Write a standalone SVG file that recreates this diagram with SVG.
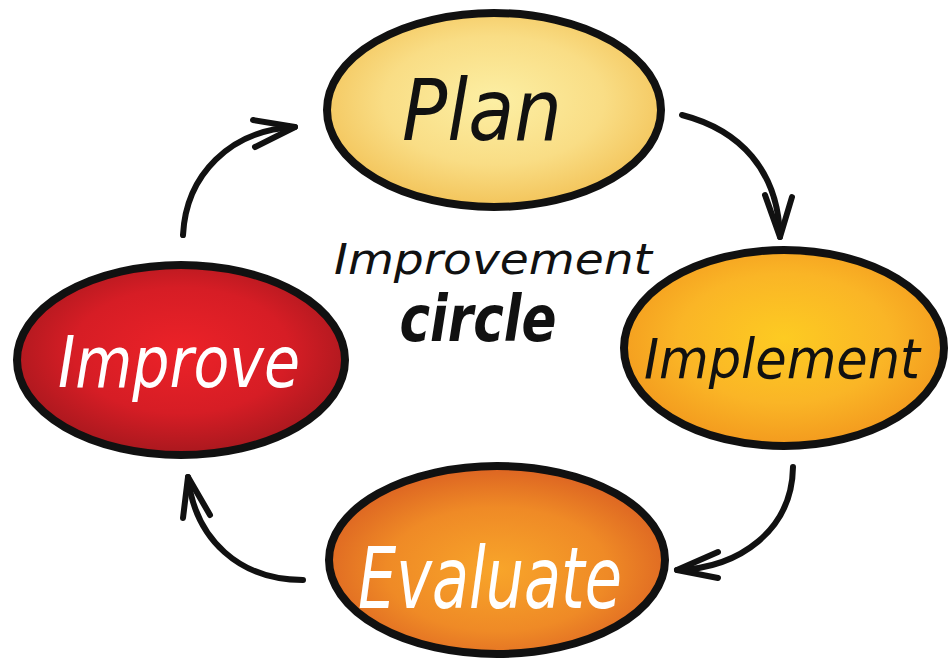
<svg xmlns="http://www.w3.org/2000/svg" width="949" height="659" viewBox="0 0 949 659">
<defs>
<radialGradient id="gPlan" cx="50%" cy="45%" r="55%"><stop offset="0" stop-color="#FCEFA4"/><stop offset="0.6" stop-color="#F9DD85"/><stop offset="1" stop-color="#F3C45A"/></radialGradient>
<radialGradient id="gImpl" cx="50%" cy="45%" r="55%"><stop offset="0" stop-color="#FDCB22"/><stop offset="0.6" stop-color="#FAB526"/><stop offset="1" stop-color="#F39A1E"/></radialGradient>
<radialGradient id="gEval" cx="50%" cy="55%" r="55%"><stop offset="0" stop-color="#F8A52A"/><stop offset="0.6" stop-color="#EF8A26"/><stop offset="1" stop-color="#DC6322"/></radialGradient>
<radialGradient id="gImpr" cx="50%" cy="45%" r="55%"><stop offset="0" stop-color="#EC2228"/><stop offset="0.6" stop-color="#D61D25"/><stop offset="1" stop-color="#A8181E"/></radialGradient>
<style>
.node{stroke:#111;stroke-width:8}
.lbl{font-family:"DejaVu Sans","Liberation Sans",sans-serif;font-style:italic;text-anchor:middle}
.dark{fill:#111}
.light{fill:#fff}
.conn path{fill:none;stroke:#111;stroke-width:6;stroke-linecap:round;stroke-linejoin:round}
</style>
</defs>
<rect width="949" height="659" fill="#fff"/>
<g id="center-title">
<text class="lbl dark" x="493" y="274" font-size="42" textLength="318" lengthAdjust="spacingAndGlyphs">Improvement</text>
<text class="lbl dark" x="478" y="341" font-size="64" font-weight="bold" font-style="normal" textLength="157" lengthAdjust="spacingAndGlyphs">circle</text>
</g>
<g id="plan">
<ellipse class="node" cx="494" cy="110" rx="167" ry="97" fill="url(#gPlan)"/>
<text class="lbl dark" x="482" y="140" font-size="86" textLength="160" lengthAdjust="spacingAndGlyphs">Plan</text>
</g>
<g id="implement">
<ellipse class="node" cx="784" cy="348" rx="160" ry="98" fill="url(#gImpl)"/>
<text class="lbl dark" x="782" y="378" font-size="56" textLength="276" lengthAdjust="spacingAndGlyphs">Implement</text>
</g>
<g id="evaluate">
<ellipse class="node" cx="497" cy="560" rx="168" ry="94" fill="url(#gEval)"/>
<text class="lbl light" x="490" y="608" font-size="86" textLength="264" lengthAdjust="spacingAndGlyphs">Evaluate</text>
</g>
<g id="improve">
<ellipse class="node" cx="181" cy="360" rx="164" ry="95" fill="url(#gImpr)"/>
<text class="lbl light" x="179" y="387" font-size="72" textLength="242" lengthAdjust="spacingAndGlyphs">Improve</text>
</g>
<g id="connectors" class="conn">
<path d="M183 235 C186 175 230 130 295 127"/>
<path d="M253 120 L295 127 L255 147"/>
<path d="M682 115 C740 130 778 170 780 237"/>
<path d="M765 195 L780 237 L792 197"/>
<path d="M793 467 C792 530 740 568 677 570"/>
<path d="M718 552 L677 570 L718 578"/>
<path d="M303 580 C240 580 195 540 188 477"/>
<path d="M183 518 L188 477 L210 515"/>
</g>
</svg>
